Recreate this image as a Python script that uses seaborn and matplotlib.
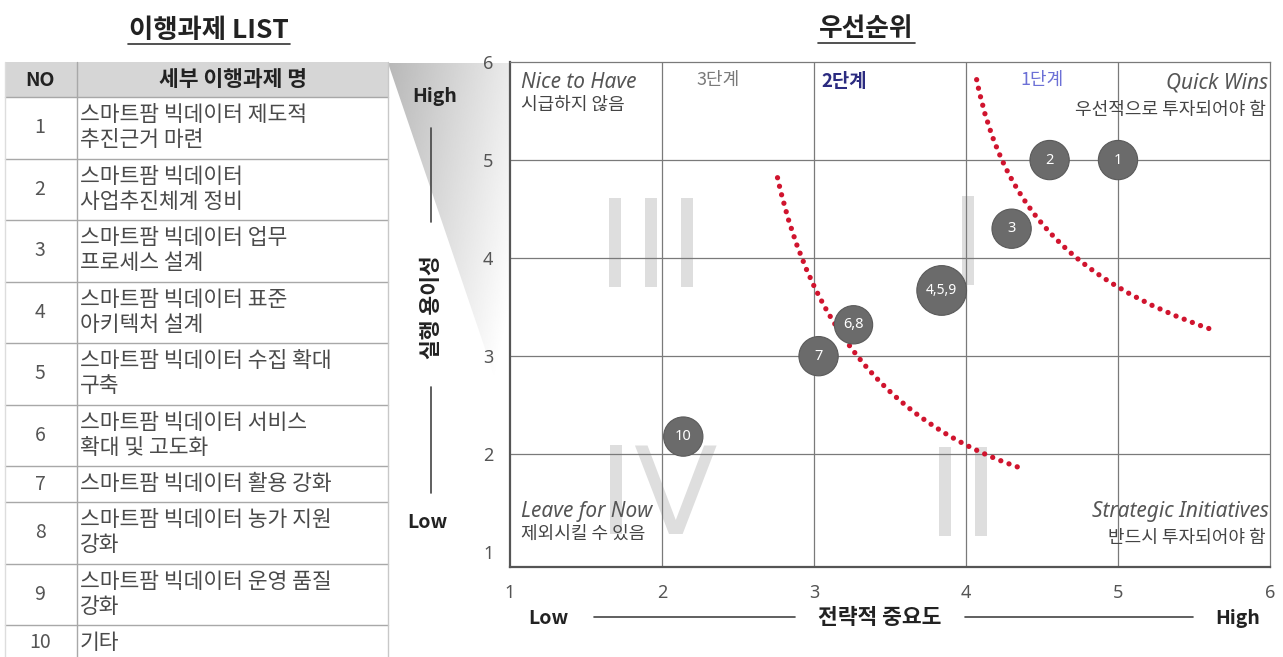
import numpy as np
import pandas as pd
import matplotlib
matplotlib.use("Agg")
import matplotlib.pyplot as plt
from matplotlib.path import Path
from matplotlib.patches import PathPatch, Polygon, Rectangle
import seaborn as sns

# ---------------- data ----------------
task_no = ["1", "2", "3", "4", "5", "6", "7", "8", "9", "10"]
task_names = [
    "스마트팜 빅데이터 제도적\n추진근거 마련",
    "스마트팜 빅데이터\n사업추진체계 정비",
    "스마트팜 빅데이터 업무\n프로세스 설계",
    "스마트팜 빅데이터 표준\n아키텍처 설계",
    "스마트팜 빅데이터 수집 확대\n구축",
    "스마트팜 빅데이터 서비스\n확대 및 고도화",
    "스마트팜 빅데이터 활용 강화",
    "스마트팜 빅데이터 농가 지원\n강화",
    "스마트팜 빅데이터 운영 품질\n강화",
    "기타",
]

bubble_labels = ["1", "2", "3", "4,5,9", "6,8", "7", "10"]
strategic_importance = [5.0, 4.55, 4.3, 3.84, 3.26, 3.03, 2.14]
ease_of_execution = [5.0, 5.0, 4.3, 3.67, 3.32, 3.0, 2.18]
tasks_in_bubble = [1, 1, 1, 3, 2, 1, 1]

x_ticks = [1, 2, 3, 4, 5, 6]
y_ticks = [1, 2, 3, 4, 5, 6]

# stage boundary guides (cubic Bezier control points, data units)
stage2_curve = [(2.76, 4.82), (2.98, 3.29), (3.50, 2.32), (4.34, 1.87)]
stage1_curve = [(4.07, 5.82), (4.24, 4.52), (4.70, 3.76), (5.62, 3.27)]

df = pd.DataFrame({
    "label": bubble_labels,
    "strategic": strategic_importance,
    "ease": ease_of_execution,
    "n": tasks_in_bubble,
})

# ---------------- style ----------------
sns.set_theme(style="white")
plt.rcParams["font.family"] = ["Noto Sans CJK KR", "DejaVu Sans"]
plt.rcParams["axes.unicode_minus"] = False

W, H = 1283, 657
fig = plt.figure(figsize=(W / 100, H / 100), dpi=100)
fig.patch.set_facecolor("white")

# full-figure layer in pixel units for the table and frame decorations
deco = fig.add_axes([0, 0, 1, 1], zorder=0)
deco.set_xlim(0, W)
deco.set_ylim(H, 0)
deco.axis("off")

TXT = "#4a4a4a"
LINE = "#a8a8a8"
DARK = "#222222"

# titles
deco.text(209, 30, "이행과제 LIST", ha="center", va="center", fontsize=19,
          fontweight="bold", color=DARK)
deco.plot([128, 290], [44, 44], color="#333333", lw=1.2)
deco.text(866, 28, "우선순위", ha="center", va="center", fontsize=18.5,
          fontweight="bold", color=DARK)
deco.plot([818, 915], [43, 43], color="#333333", lw=1.2)

# connector wedge from the table header toward the chart
wedge = Polygon([(388, 63), (511, 63), (511, 425)], closed=True,
                facecolor="none", edgecolor="none")
deco.add_patch(wedge)
gx = np.linspace(0, 1, 200)
gy = np.linspace(0, 1, 300)
GX, GY = np.meshgrid(gx, gy)
grad = np.clip(0.72 + 0.20 * GX + 0.12 * GY, 0, 1)
img = deco.imshow(grad, cmap="gray", vmin=0, vmax=1, extent=(388, 511, 425, 63),
                  origin="upper", aspect="auto", zorder=0.5)
img.set_clip_path(wedge)
deco.set_xlim(0, W)
deco.set_ylim(H, 0)

# table
tbl_left, tbl_mid, tbl_right = 5, 77, 388
head_top, head_bot = 62, 97
deco.add_patch(Rectangle((tbl_left, head_top), tbl_right - tbl_left, head_bot - head_top,
                         facecolor="#d6d6d6", edgecolor="none", zorder=1))
deco.text(40, 80, "NO", ha="center", va="center", fontsize=14,
          fontweight="bold", color=DARK, zorder=3)
deco.text(233, 80, "세부 이행과제 명", ha="center", va="center", fontsize=15.5,
          fontweight="bold", color=DARK, zorder=3)

one_line, two_line = 36, 61.5
y = head_bot
deco.plot([tbl_left, tbl_right], [head_bot, head_bot], color=LINE, lw=1, zorder=2)
for no, name in zip(task_no, task_names):
    h = two_line if "\n" in name else one_line
    cy = y + h / 2
    deco.text(40, cy, no, ha="center", va="center", fontsize=14,
              color="#555555", zorder=3)
    deco.text(80, cy, name, ha="left", va="center", fontsize=15.5,
              color=TXT, linespacing=1.15, zorder=3)
    y += h
    deco.plot([tbl_left, tbl_right], [y, y], color=LINE, lw=1, zorder=2)
deco.plot([tbl_mid, tbl_mid], [head_top, H], color=LINE, lw=1, zorder=2)
deco.plot([tbl_right, tbl_right], [head_top, H], color="#c8c8c8", lw=1, zorder=2)
deco.plot([tbl_left, tbl_left], [head_top, H], color="#dddddd", lw=1, zorder=2)

# axis captions (vertical)
deco.text(435, 96, "High", ha="center", va="center", fontsize=14,
          fontweight="bold", color=DARK)
deco.plot([431, 431], [128, 222], color="#444444", lw=1.2)
deco.text(431, 307, "실행 용이성", ha="center", va="center", rotation=90,
          fontsize=15.5, fontweight="bold", color=DARK)
deco.plot([431, 431], [387, 493], color="#444444", lw=1.2)
deco.text(427, 523, "Low", ha="center", va="center", fontsize=14,
          fontweight="bold", color=DARK)

# axis captions (horizontal)
deco.text(548, 618, "Low", ha="center", va="center", fontsize=14,
          fontweight="bold", color=DARK)
deco.plot([594, 795], [617, 617], color="#444444", lw=1.2)
deco.text(880, 618, "전략적 중요도", ha="center", va="center", fontsize=15.5,
          fontweight="bold", color=DARK)
deco.plot([965, 1193], [617, 617], color="#444444", lw=1.2)
deco.text(1238, 618, "High", ha="center", va="center", fontsize=14,
          fontweight="bold", color=DARK)

# ---------------- priority matrix ----------------
ax = fig.add_axes([510 / W, 1 - 567 / H, 760 / W, 505 / H], zorder=1)
ax.set_facecolor("white")
ax.set_xlim(1, 6)
ax.set_ylim(0.85, 6)
ax.set_xticks(x_ticks)
ax.set_yticks(y_ticks)
ax.set_xticklabels([str(t) for t in x_ticks])
ax.set_yticklabels([str(t) for t in y_ticks])
ax.tick_params(axis="both", length=0, labelsize=13, labelcolor="#555555")
ax.tick_params(axis="x", pad=12)
ax.tick_params(axis="y", pad=12)
for t in ax.get_xticklabels() + ax.get_yticklabels():
    t.set_family(["Noto Sans", "DejaVu Sans"])

# grid
for gxv in x_ticks[1:-1]:
    ax.axvline(gxv, color="#7a7a7a", lw=0.9, zorder=1)
for gyv in y_ticks[1:-1]:
    ax.axhline(gyv, color="#7a7a7a", lw=0.9, zorder=1)
for side in ["top", "right"]:
    ax.spines[side].set_color("#7a7a7a")
    ax.spines[side].set_linewidth(0.9)
for side in ["left", "bottom"]:
    ax.spines[side].set_color("#555555")
    ax.spines[side].set_linewidth(1.6)

# quadrant numerals
num_kw = dict(ha="center", va="center", fontsize=88, color="#dedede",
              family="DejaVu Sans", zorder=0.8)
ax.text(1.93, 4.05, "III", **num_kw)
ax.text(4.01, 4.07, "I", **num_kw)
ax.text(3.98, 1.51, "II", **num_kw)
ax.text(1.97, 1.53, "IV", **num_kw)

# quadrant captions
it_kw = dict(fontsize=15, style="italic", color="#555555",
             family=["Noto Sans", "DejaVu Sans"], zorder=3)
ko_kw = dict(fontsize=13, color="#444444", zorder=3)
ax.text(1.07, 5.79, "Nice to Have", ha="left", va="center", **it_kw)
ax.text(1.07, 5.56, "시급하지 않음", ha="left", va="center", **ko_kw)
ax.text(5.99, 5.79, "Quick Wins", ha="right", va="center", **it_kw)
ax.text(5.97, 5.51, "우선적으로 투자되어야 함", ha="right", va="center", **ko_kw)
ax.text(1.07, 1.42, "Leave for Now", ha="left", va="center", **it_kw)
ax.text(1.07, 1.19, "제외시킬 수 있음", ha="left", va="center", **ko_kw)
ax.text(5.99, 1.42, "Strategic Initiatives", ha="right", va="center", **it_kw)
ax.text(5.97, 1.15, "반드시 투자되어야 함", ha="right", va="center", **ko_kw)

# stage headers
ax.text(2.37, 5.82, "3단계", ha="center", va="center", fontsize=13, color="#7a7a7a")
ax.text(3.20, 5.80, "2단계", ha="center", va="center", fontsize=13.5,
        fontweight="bold", color="#2b2b80")
ax.text(4.50, 5.82, "1단계", ha="center", va="center", fontsize=13, color="#6c70d6")

# stage boundary guides
codes = [Path.MOVETO, Path.CURVE4, Path.CURVE4, Path.CURVE4]
for pts in (stage2_curve, stage1_curve):
    patch = PathPatch(Path(pts, codes), facecolor="none", edgecolor="#d0142e",
                      lw=3.8, linestyle=(0, (0.01, 1.65)), capstyle="round", zorder=2)
    ax.add_patch(patch)

# bubbles
sns.scatterplot(data=df, x="strategic", y="ease", size="n",
                sizes={1: 800, 2: 760, 3: 1280}, color="#6b6b6b",
                edgecolor="#5a5a5a", linewidth=0.8, legend=False, ax=ax, zorder=4)
for _, r in df.iterrows():
    ax.text(r["strategic"], r["ease"], r["label"], ha="center", va="center",
            fontsize=10.5 if r["n"] < 3 else 10, color="white", fontweight="bold",
            family=["Noto Sans", "DejaVu Sans"], zorder=5)
ax.set_xlabel("")
ax.set_ylabel("")

fig.savefig("out.png", dpi=100, facecolor="white")
